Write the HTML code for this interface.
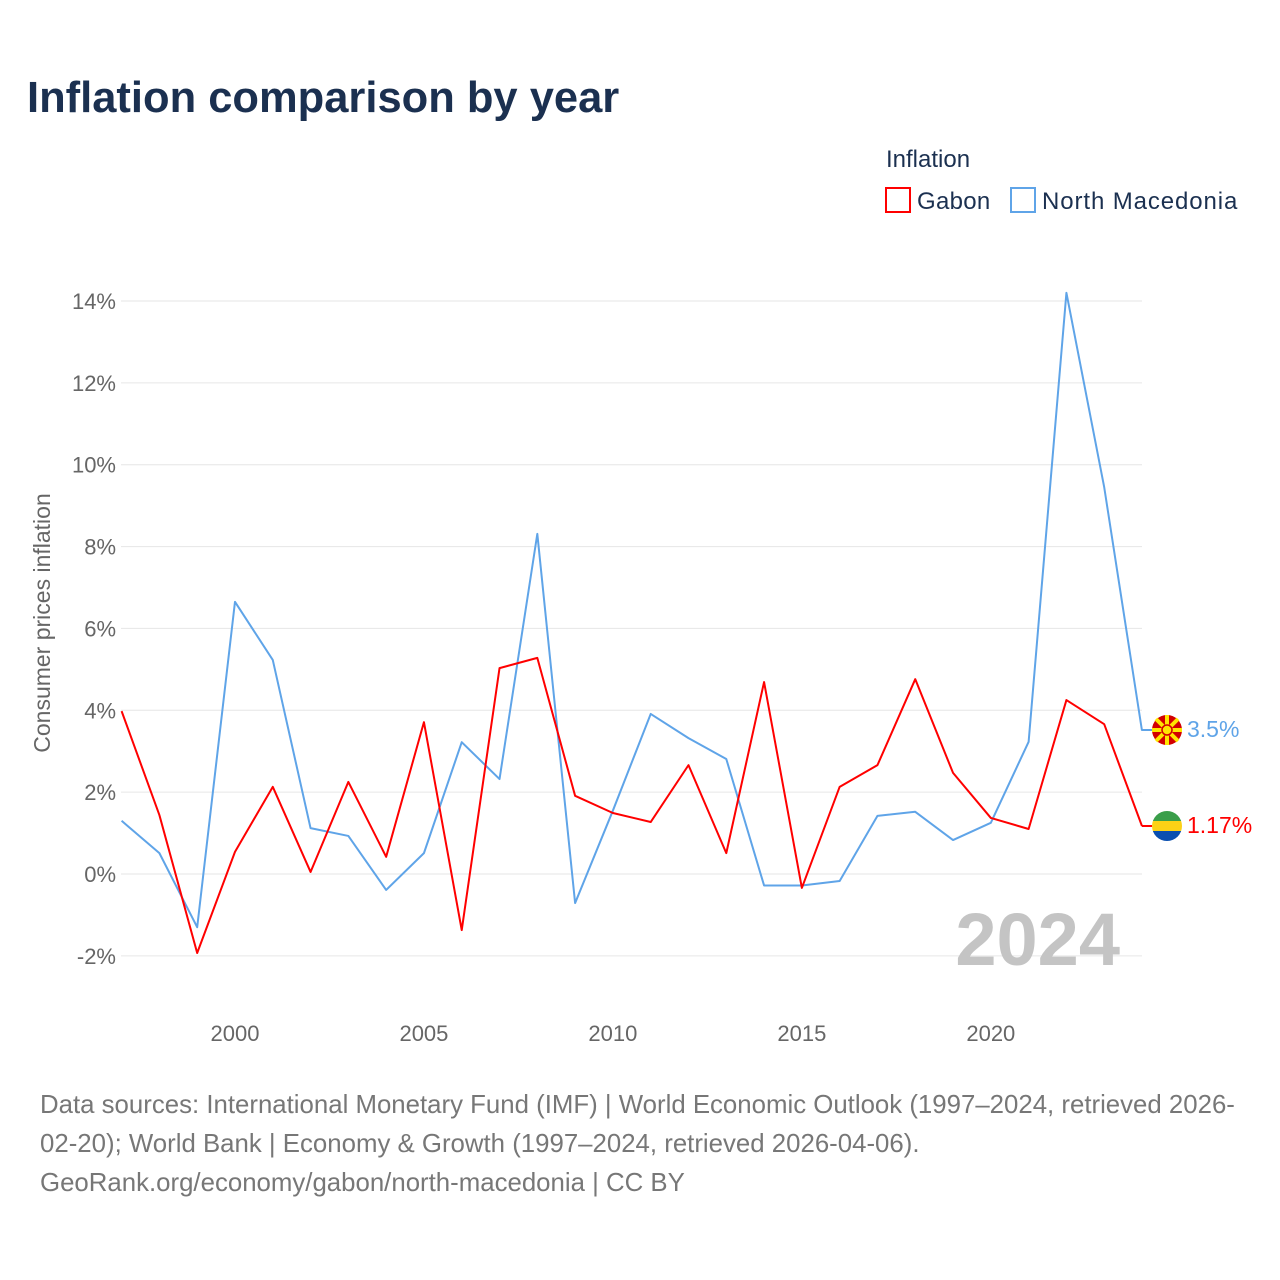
<!DOCTYPE html>
<html><head><meta charset="utf-8"><style>
body{margin:0;background:#fff;font-family:"Liberation Sans",sans-serif;}
#wrap{position:relative;width:1280px;height:1280px;overflow:hidden;}
</style></head><body>
<div id="wrap">
<svg id="svg" width="1280" height="1280" xmlns="http://www.w3.org/2000/svg">
<text x="27" y="112" font-size="43.5" font-weight="bold" fill="#1b3050">Inflation comparison by year</text>
<text x="886" y="167" font-size="24" fill="#1b3050">Inflation</text>
<g><rect x="886" y="188" width="24" height="24" fill="none" stroke="#f00" stroke-width="2"/><text x="917" y="209" font-size="24" fill="#1b3050" letter-spacing="0.3">Gabon</text></g>
<g><rect x="1011" y="188" width="24" height="24" fill="none" stroke="#5fa4e8" stroke-width="2"/><text x="1042" y="209" font-size="24" fill="#1b3050" letter-spacing="0.9">North Macedonia</text></g>
<g id="grid"></g><g id="yt"></g><g id="xt"></g>
<text transform="translate(50,623) rotate(-90)" text-anchor="middle" font-size="23" fill="#666">Consumer prices inflation</text>
<text x="1120" y="965" text-anchor="end" font-size="74" font-weight="bold" fill="#c4c4c4">2024</text>
<g id="series"></g>
<line x1="1142" y1="730" x2="1152" y2="730" stroke="#5fa4e8" stroke-width="2"/>
<line x1="1142" y1="826" x2="1152" y2="826" stroke="#f00" stroke-width="2"/>
<g><circle cx="1167" cy="730" r="15" fill="#d20000"/><g stroke="#ffe600" stroke-width="4"><line x1="1152" y1="730" x2="1182" y2="730"/><line x1="1167" y1="715" x2="1167" y2="745"/><line x1="1156" y1="719" x2="1178" y2="741"/><line x1="1178" y1="719" x2="1156" y2="741"/></g><circle cx="1167" cy="730" r="5" fill="#ffe600" stroke="#d20000" stroke-width="1.5"/></g>
<g><clipPath id="cg"><circle cx="1167" cy="826" r="15"/></clipPath><g clip-path="url(#cg)"><rect x="1150" y="811" width="34" height="10" fill="#3a9e4a"/><rect x="1150" y="821" width="34" height="10" fill="#fcd116"/><rect x="1150" y="831" width="34" height="11" fill="#0a4fb0"/></g></g>
<text x="1187" y="737" font-size="23" fill="#5fa4e8">3.5%</text>
<text x="1187" y="833" font-size="23" fill="#f00">1.17%</text>
<text font-size="25.8" fill="#777"><tspan x="40" y="1113">Data sources: International Monetary Fund (IMF) | World Economic Outlook (1997–2024, retrieved 2026-</tspan><tspan x="40" y="1152">02-20); World Bank | Economy &amp; Growth (1997–2024, retrieved 2026-04-06).</tspan><tspan x="40" y="1191">GeoRank.org/economy/gabon/north-macedonia | CC BY</tspan></text>
</svg></div>
<script>
const years=[1997,1998,1999,2000,2001,2002,2003,2004,2005,2006,2007,2008,2009,2010,2011,2012,2013,2014,2015,2016,2017,2018,2019,2020,2021,2022,2023,2024];
const gabon=[3.98,1.44,-1.93,0.54,2.13,0.05,2.25,0.42,3.71,-1.37,5.03,5.28,1.91,1.49,1.27,2.66,0.51,4.69,-0.34,2.13,2.66,4.76,2.47,1.37,1.1,4.25,3.66,1.17];
const macedonia=[1.3,0.51,-1.3,6.65,5.23,1.12,0.93,-0.39,0.51,3.22,2.32,8.31,-0.71,1.55,3.91,3.32,2.81,-0.28,-0.28,-0.17,1.42,1.52,0.83,1.25,3.23,14.2,9.45,3.5];
const yTicks=[-2,0,2,4,6,8,10,12,14];
const xTicks=[2000,2005,2010,2015,2020];
const NS="http://www.w3.org/2000/svg";
const X=y=>121.6+(y-1997)*(1142-121.6)/27;
const Y=v=>874-v*(874-301)/14;
function mk(t,a,p){const e=document.createElementNS(NS,t);for(const k in a)e.setAttribute(k,a[k]);document.getElementById(p).appendChild(e);return e;}
yTicks.forEach(v=>{
 const l=mk('line',{x1:121,x2:1142,y1:Y(v),y2:Y(v),stroke:'#e6e6e6','stroke-width':1},'grid');
 
 
 const t=mk('text',{x:116,y:Y(v)+8,'text-anchor':'end','font-size':22,fill:'#666'},'yt');
 t.textContent=v+'%';
 
 
});
xTicks.forEach(v=>{
 const t=mk('text',{x:X(v),y:1041,'text-anchor':'middle','font-size':22,fill:'#666'},'xt');
 t.textContent=v;
 
 
});
function line(d,c,n){
 const p=mk('polyline',{points:d.map((v,i)=>X(years[i])+','+Y(v)).join(' '),fill:'none',stroke:c,'stroke-width':2,'stroke-linejoin':'round'},'series');
 
 
}
line(macedonia,'#5fa4e8','line-north-macedonia');
line(gabon,'#f00','line-gabon');
</script>
</body></html>
